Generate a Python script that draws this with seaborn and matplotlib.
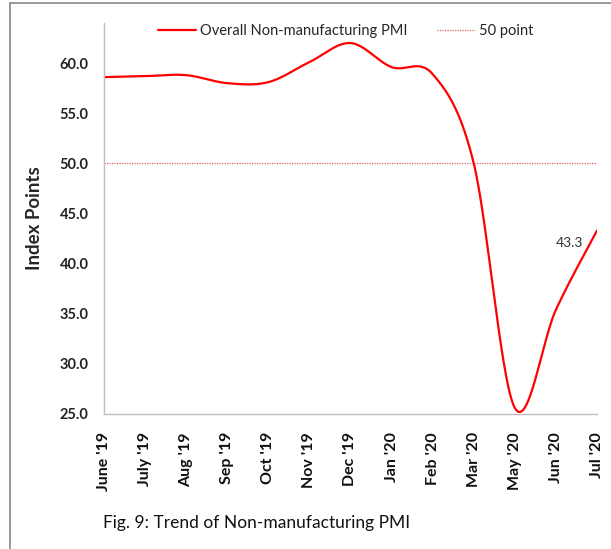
import numpy as np
import pandas as pd
import matplotlib
matplotlib.use("Agg")
import matplotlib.pyplot as plt
from matplotlib.lines import Line2D
import seaborn as sns

sns.set_style("white")
plt.rcParams['font.family'] = ['Lato', 'DejaVu Sans']

months = ["June '19", "July '19", "Aug '19", "Sep '19", "Oct '19", "Nov '19",
          "Dec '19", "Jan '20", "Feb '20", "Mar '20", "May '20", "Jun '20", "Jul '20"]
pmi = [58.6, 58.7, 58.8, 58.0, 58.1, 60.1, 62.0, 59.6, 58.9, 50.0, 25.6, 35.4, 43.3]
fifty = [50.0] * len(months)


def smooth(xs, ys, n=30):
    # Excel-like smoothed line: Catmull-Rom through the points
    p = np.column_stack([xs, ys]).astype(float)
    p = np.vstack([p[0], p, p[-1]])
    out = []
    for i in range(1, len(p) - 2):
        p0, p1, p2, p3 = p[i - 1], p[i], p[i + 1], p[i + 2]
        t = np.linspace(0, 1, n, endpoint=False)[:, None]
        c1 = p1 + (p2 - p0) / 6
        c2 = p2 - (p3 - p1) / 6
        out.append((1 - t) ** 3 * p1 + 3 * (1 - t) ** 2 * t * c1 + 3 * (1 - t) * t ** 2 * c2 + t ** 3 * p2)
    out.append(p[-2][None, :])
    return np.vstack(out)


xs = np.arange(len(months))
curve = smooth(xs, pmi)
df = pd.DataFrame({"x": curve[:, 0], "y": curve[:, 1]})

fig = plt.figure(figsize=(6.11, 5.49), dpi=100)
ax = fig.add_axes([104 / 611, 1 - 414 / 549, 493 / 611, 391 / 549])

sns.lineplot(data=df, x="x", y="y", ax=ax, color="#FF0000", lw=1.6,
             sort=False, label="Overall Non-manufacturing PMI")
sns.lineplot(x=xs, y=fifty, ax=ax, color="#E06666", lw=0.9, linestyle=(0, (1, 1)),
             label="50 point")

ax.set_xlim(0, len(months) - 1)
ax.set_ylim(25, 64)
ax.set_yticks(np.arange(25, 61, 5))
ax.set_yticklabels([f"{v:.1f}" for v in np.arange(25, 61, 5)], fontsize=10.5,
                   fontweight="bold", color="#222222")
ax.set_xticks(xs)
ax.set_xticklabels(months, rotation=90, fontsize=11.5, fontweight="bold", color="#111111")
ax.set_xlabel("")
ax.set_ylabel("Index Points", fontsize=13.5, fontweight="bold", labelpad=12)

for s in ["top", "right"]:
    ax.spines[s].set_visible(False)
for s in ["left", "bottom"]:
    ax.spines[s].set_color("#BFBFBF")
    ax.spines[s].set_linewidth(1)
ax.tick_params(axis="both", direction="out", length=5, color="#BFBFBF", width=1)
ax.tick_params(axis="x", pad=8)
ax.tick_params(axis="y", pad=6)

ax.annotate(f"{pmi[-1]}", xy=(xs[-1], pmi[-1]), xytext=(-30, -9),
            textcoords="offset points", fontsize=10, color="#333333", va="center")

ax.legend(loc="upper center", bbox_to_anchor=(0.49, 1.03), ncol=2, frameon=False,
          fontsize=10.5, handlelength=2.6, columnspacing=2.0, handletextpad=0.3)

fig.text(103 / 611, 1 - 523 / 549, "Fig. 9: Trend of Non-manufacturing PMI",
         fontsize=12.5, va="center", ha="left", color="#111111")

fig.add_artist(Line2D([10 / 611, 1], [1 - 3 / 549, 1 - 3 / 549], color="#888888", lw=1.2))
fig.add_artist(Line2D([10 / 611, 10 / 611], [0, 1 - 3 / 549], color="#888888", lw=1.2))

plt.savefig("out.png", dpi=100)
